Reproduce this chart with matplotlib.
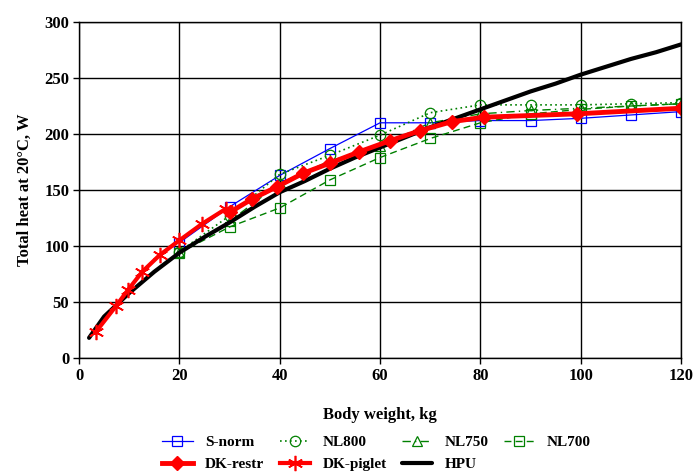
import numpy as np
import matplotlib.pyplot as plt

plt.rcParams['font.family'] = ['Liberation Serif', 'DejaVu Serif']
plt.rcParams['font.weight'] = 'bold'

# body weight (kg) where the trial groups were measured
trial_kg = [20, 30, 40, 50, 60, 70, 80, 90, 100, 110, 120]
s_norm = [103, 135, 163, 187, 210, 210, 212, 212, 214, 217, 220]
nl800 = [95, 127, 164, 181, 199, 219, 226, 226, 226, 227, 228]
nl750 = [95, 122, 156, 176, 189, 210, 218, 221, 223, 225, 227]
nl700 = [94, 117, 134, 159, 179, 196, 210, 218, 222, 225, 227]

dk_restr_kg = [30, 34.5, 39.5, 44.7, 50, 55.8, 62, 68, 74.3, 80.7, 99.3, 120]
dk_restr = [130, 142, 153, 165, 174, 184, 194, 203, 211, 215, 218, 223]

dk_piglet_kg = [3.3, 7.3, 9.8, 12.6, 16.1, 20, 24.6, 29.2]
dk_piglet = [23, 46, 61, 77, 92, 105, 120, 133]

hpu_kg = [2, 5, 10, 15, 20, 25, 30, 35, 40, 45, 50, 55, 60, 65, 70, 75,
          80, 85, 90, 95, 100, 105, 110, 115, 120]
hpu = [18, 37, 58, 77, 94, 108, 121, 135, 148, 158, 169, 179, 188, 197, 206,
       214, 222, 230, 238, 245, 253, 260, 267, 273, 280]

x_ticks = [0, 20, 40, 60, 80, 100, 120]
y_ticks = [0, 50, 100, 150, 200, 250, 300]

green = '#008000'

fig = plt.figure(figsize=(6.95, 4.72), dpi=100)
ax = fig.add_axes([0.1137, 0.2415, 0.8663, 0.7119])

h_snorm, = ax.plot(trial_kg, s_norm, color='blue', lw=0.9, marker='s', ms=7,
                   mfc='none', mec='blue', mew=0.9, label='S-norm')
h_800, = ax.plot(trial_kg, nl800, color=green, lw=1.2, ls=(0, (1, 2)), marker='o',
                 ms=7.5, mfc='none', mec=green, mew=0.9, label='NL800')
h_750, = ax.plot(trial_kg, nl750, color=green, lw=1.0, ls=(0, (6, 3, 1, 3)), marker='^',
                 ms=7, mfc='none', mec=green, mew=0.9, label='NL750')
h_700, = ax.plot(trial_kg, nl700, color=green, lw=1.0, ls=(0, (5, 3)), marker='s',
                 ms=7, mfc='none', mec=green, mew=0.9, label='NL700')
h_hpu, = ax.plot(hpu_kg, hpu, color='black', lw=3, solid_capstyle='round', label='HPU')
h_piglet, = ax.plot(dk_piglet_kg, dk_piglet, color='red', lw=3, marker=(6, 2, 0),
                    ms=11, mec='red', mew=1.2, label='DK-piglet')
h_restr, = ax.plot(dk_restr_kg, dk_restr, color='red', lw=3.5, marker='D', ms=7.5,
                   mfc='red', mec='red', label='DK-restr')

ax.set_xlim(0, 120)
ax.set_ylim(0, 300)
ax.set_xticks(x_ticks)
ax.set_yticks(y_ticks)
ax.grid(True, color='black', lw=1)
ax.set_axisbelow(True)
for s in ax.spines.values():
    s.set_color('black')
    s.set_linewidth(1)
ax.tick_params(direction='out', length=4, width=1, labelsize=12, pad=3)
for lbl in ax.get_xticklabels() + ax.get_yticklabels():
    lbl.set_fontweight('bold')

ax.set_xlabel('Body weight, kg', fontsize=12, fontweight='bold', labelpad=17)
ax.set_ylabel('Total heat at 20°C, W', fontsize=12, fontweight='bold', labelpad=8)

# column-major order so the first row reads S-norm ... NL700
handles = [h_snorm, h_restr, h_800, h_piglet, h_750, h_hpu, h_700]
fig.legend(handles=handles, labels=[h.get_label() for h in handles],
           loc='lower left', bbox_to_anchor=(0.218, -0.021), ncol=4, frameon=False,
           prop={'family': 'Liberation Serif', 'weight': 'bold', 'size': 11},
           handlelength=2.0, handletextpad=0.8, columnspacing=1.0,
           labelspacing=0.55, borderpad=0.2)

fig.savefig('out.png', dpi=100)
